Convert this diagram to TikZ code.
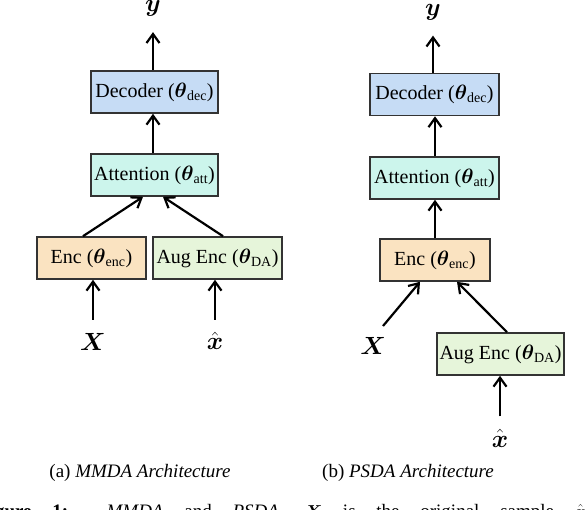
\documentclass[tikz,border=0pt]{standalone}
\usepackage{amsmath}
\usepackage{amssymb}
\usepackage{fontspec}
\setmainfont{Liberation Serif}
\usepackage{tikz}
\usetikzlibrary{arrows.meta}

\begin{document}
\begin{tikzpicture}[x=1pt,y=-1pt,
		font=\fontsize{20}{24}\selectfont,
		blockbox/.style={draw=black!80,line width=1.6pt,minimum height=42pt,inner sep=0pt},
		lbl/.style={inner sep=0pt,font=\fontsize{25}{30}\selectfont},
		capt/.style={inner sep=0pt,font=\fontsize{19}{23}\selectfont},
		flow/.style={line width=2.2pt,-{Straight Barb[length=9pt,width=13pt,line width=2.2pt]}}]
				\useasboundingbox (0,0) rectangle (586,510);
				\definecolor{decblue}{RGB}{198,220,245}
				\definecolor{attmint}{RGB}{204,245,236}
				\definecolor{encpeach}{RGB}{250,227,193}
				\definecolor{auggreen}{RGB}{230,245,218}
				% (a) MMDA
				\node [blockbox,fill=decblue,minimum width=127pt] (deca) at (154.5,92){Decoder ($\boldsymbol{\theta}_{\text{dec}}$)};
				\node [blockbox,fill=attmint,minimum width=127pt] (atta) at (154.5,175){Attention ($\boldsymbol{\theta}_{\text{att}}$)};
				\node [blockbox,fill=encpeach,minimum width=109pt] (enca) at (91.5,258){Enc ($\boldsymbol{\theta}_{\text{enc}}$)};
				\node [blockbox,fill=auggreen,minimum width=129pt] (auga) at (217.5,258){Aug Enc ($\boldsymbol{\theta}_{\text{DA}}$)};
				\node [lbl] (ya) at (153,8){$\boldsymbol{y}$};
				\node [lbl] (Xa) at (93,341.5){$\boldsymbol{X}$};
				\node [lbl] (xa) at (215,341){$\hat{\boldsymbol{x}}$};
				\draw [flow,shorten >=16pt] (deca.north -| ya) -- (ya);
				\draw [flow] (atta.north -| ya) -- (deca.south -| ya);
				\draw [flow] ([xshift=-8.5pt]enca.north) -- ([xshift=-11.5pt]atta.south);
				\draw [flow] ([xshift=5.5pt]auga.north) -- ([xshift=8.5pt]atta.south);
				\draw [flow,shorten <=13pt] (Xa) -- (enca.south -| Xa);
				\draw [flow,shorten <=12pt] (xa) -- (auga.south -| xa);
				\node [capt] (capa) at (140,473){(a) \textit{MMDA Architecture}};
				% (b) PSDA
				\node [blockbox,fill=decblue,minimum width=129pt] (decb) at (434.5,94.5){Decoder ($\boldsymbol{\theta}_{\text{dec}}$)};
				\node [blockbox,fill=attmint,minimum width=129pt] (attb) at (434.5,178){Attention ($\boldsymbol{\theta}_{\text{att}}$)};
				\node [blockbox,fill=encpeach,minimum width=110pt] (encb) at (435,260){Enc ($\boldsymbol{\theta}_{\text{enc}}$)};
				\node [blockbox,fill=auggreen,minimum width=127pt] (augb) at (500.5,354){Aug Enc ($\boldsymbol{\theta}_{\text{DA}}$)};
				\node [lbl] (yb) at (433,12.5){$\boldsymbol{y}$};
				\node [lbl] (Xb) at (373,345.5){$\boldsymbol{X}$};
				\node [lbl] (xb) at (500,438.5){$\hat{\boldsymbol{x}}$};
				\draw [flow,shorten >=15pt] (decb.north -| yb) -- (yb);
				\draw [flow] (attb.north -| encb) -- (decb.south -| encb);
				\draw [flow] (encb.north) -- (attb.south -| encb);
				\draw [flow,shorten <=14pt] ([xshift=1pt]Xb.north) -- ([xshift=-15pt]encb.south);
				\draw [flow] ([xshift=6.5pt]augb.north) -- ([xshift=22pt]encb.south);
				\draw [flow,shorten <=13pt] (xb) -- (augb.south -| xb);
				\node [capt] (capb) at (408,473){(b) \textit{PSDA Architecture}};
				% figure caption, cut by the page edge
				\node [capt,anchor=base west] (figcap) at (-22,517){\makebox[608pt][s]{\textbf{Figure 1:} \textit{MMDA} and \textit{PSDA}. $\boldsymbol{X}$ is the original sample $\hat{\boldsymbol{x}}$}};
			\end{tikzpicture}
\end{document}
